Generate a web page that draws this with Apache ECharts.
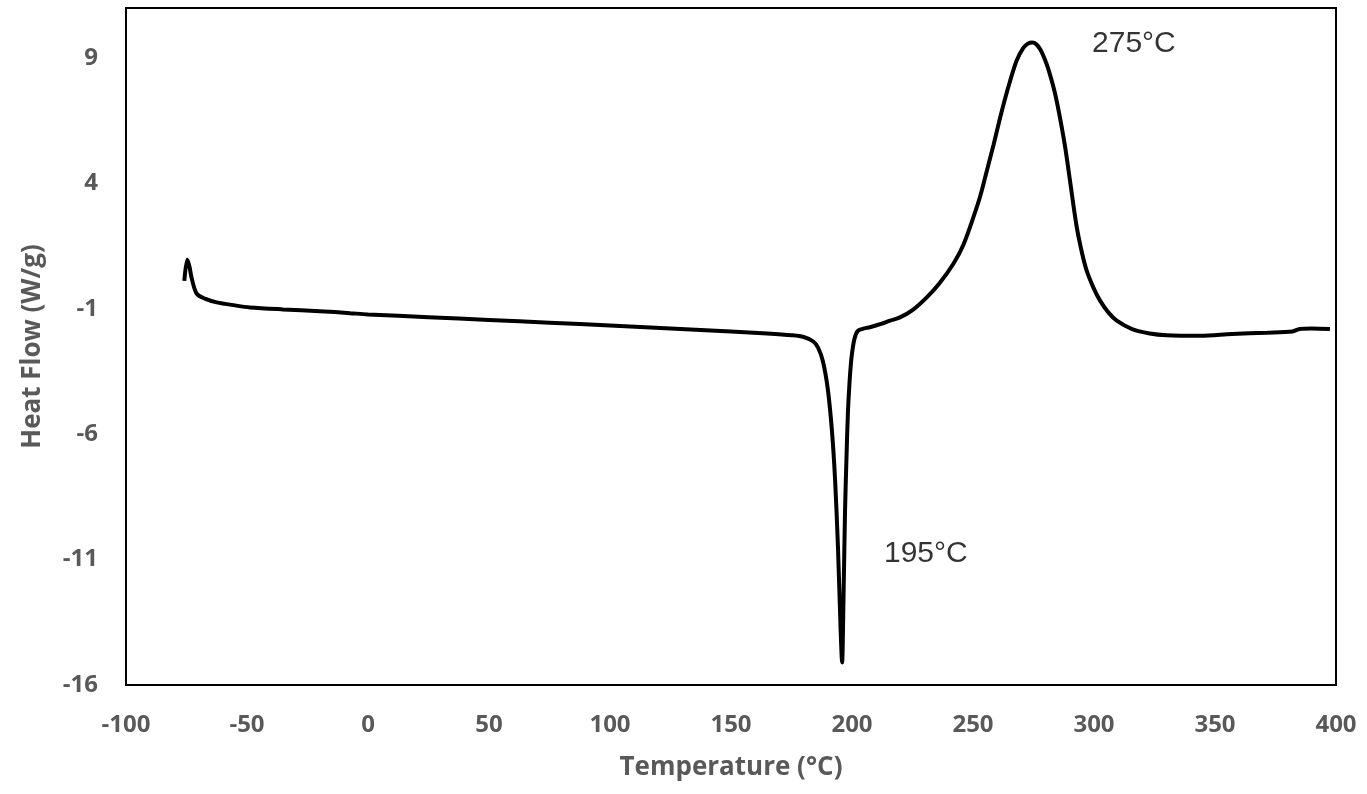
<!DOCTYPE html>
<html>
<head>
<meta charset="utf-8">
<script src="https://cdn.jsdelivr.net/npm/echarts@6/dist/echarts.min.js"></script>
<style>
html,body{margin:0;padding:0;background:#fff;}
#chart{width:1367px;height:794px;}
</style>
</head>
<body>
<div id="chart"></div>
<script>
const temps = [-75.9,-74.7,-73.8,-72.9,-70.8,-67.4,-62.5,-55,-48.8,-35.1,-20,-7.4,0,25,50,75,100,125,150,165,175,180,184,186,188,190,191.7,193,194.2,195.3,195.9,196.5,197.1,197.7,198.3,199,199.8,201,202.5,205,207.4,212,215.7,219.8,225,230.9,236,241.9,246,250.1,253,255.7,258.5,261.2,263.3,265.3,268,270.8,272.7,274.5,276.2,277.7,279.5,281,283.5,285.5,288,290.1,292.8,295,297,300,302.5,306,309.4,316,323,330,344,357,371.5,382,385,390,397.5];
const heatFlow = [0.12,0.96,0.7,0.24,-0.39,-0.59,-0.74,-0.86,-0.94,-1.02,-1.09,-1.17,-1.22,-1.33,-1.44,-1.55,-1.66,-1.78,-1.9,-1.98,-2.05,-2.12,-2.3,-2.55,-3.1,-4.2,-5.85,-7.8,-10.5,-13.8,-15.1,-12.5,-9.15,-7.0,-5.17,-3.9,-2.94,-2.2,-1.87,-1.78,-1.73,-1.6,-1.47,-1.34,-1.05,-0.54,0.0,0.8,1.55,2.64,3.5,4.5,5.55,6.62,7.4,8.08,8.9,9.41,9.58,9.62,9.55,9.36,9.0,8.6,7.75,6.85,5.5,4.1,2.3,1.25,0.52,-0.2,-0.67,-1.15,-1.47,-1.82,-1.98,-2.05,-2.07,-2.0,-1.95,-1.9,-1.8,-1.78,-1.8];
const xTicks = [-100,-50,0,50,100,150,200,250,300,350,400];
const yTicks = [-16,-11,-6,-1,4,9];
const annotations = [
  {x: 299.2, y: 9.56, text: '275°C'},
  {x: 213.2, y: -10.75, text: '195°C'}
];

const labelFont = {fontFamily: 'Open Sans', fontWeight: 'bold', fontSize: 24, color: '#595959'};
const chart = echarts.init(document.getElementById('chart'));
chart.setOption({
  animation: false,
  backgroundColor: '#fff',
  grid: {left: 126, top: 8, right: 31, bottom: 109, show: true, borderColor: '#000', borderWidth: 2, backgroundColor: 'transparent'},
  xAxis: {
    type: 'value', min: xTicks[0], max: xTicks[xTicks.length-1], interval: 50,
    name: 'Temperature (°C)', nameLocation: 'middle', nameGap: 70,
    nameTextStyle: {fontFamily: 'Open Sans', fontWeight: 'bold', fontSize: 26, color: '#595959'},
    axisLine: {show: false}, axisTick: {show: false}, splitLine: {show: false},
    axisLabel: Object.assign({margin: 28}, labelFont)
  },
  yAxis: {
    type: 'value', min: yTicks[0], max: 11, interval: 5,
    name: 'Heat Flow (W/g)', nameLocation: 'middle', nameGap: 80,
    nameTextStyle: {fontFamily: 'Open Sans', fontWeight: 'bold', fontSize: 26, color: '#595959'},
    axisLine: {show: false}, axisTick: {show: false}, splitLine: {show: false},
    axisLabel: Object.assign({margin: 28, formatter: v => yTicks.includes(v) ? String(v) : ''}, labelFont)
  },
  series: [
    {
      type: 'line', data: temps.map((t, i) => [t, heatFlow[i]]),
      showSymbol: false, smooth: 0.3,
      lineStyle: {color: '#000', width: 4}
    },
    {
      type: 'scatter', symbolSize: 0,
      data: annotations.map(a => ({value: [a.x, a.y], label: {formatter: a.text}})),
      label: {show: true, position: 'right', distance: 0, fontFamily: 'Liberation Sans', fontSize: 30, color: '#000'}
    }
  ]
});
</script>
</body>
</html>
